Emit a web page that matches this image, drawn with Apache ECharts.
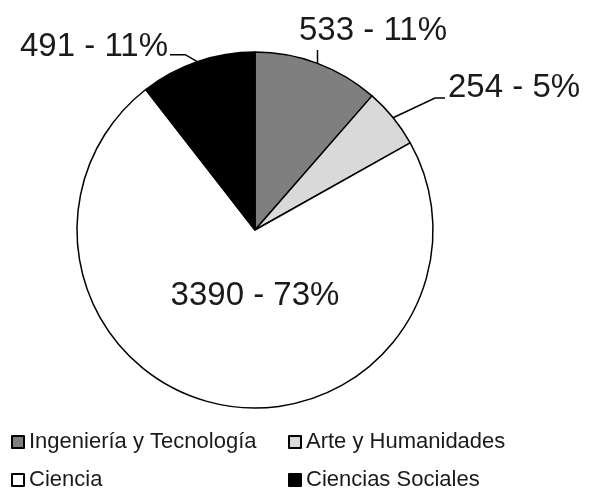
<!DOCTYPE html>
<html>
<head>
    <meta charset="utf-8">
    <title>Pie</title>
    <script src="https://cdn.jsdelivr.net/npm/echarts@6/dist/echarts.min.js"></script>
    <style>
        html, body { margin: 0; padding: 0; background: #fff; }
        #main { width: 590px; height: 494px; }
    </style>
</head>
<body>
<div id="main"></div>
<script>
    // datos
    var categorias = ['Ingeniería y Tecnología', 'Arte y Humanidades', 'Ciencia', 'Ciencias Sociales'];
    var valores = [533, 254, 3390, 491];
    var porcentajes = [11, 5, 73, 11];
    var colores = ['#7f7f7f', '#d9d9d9', '#ffffff', '#000000'];

    // posiciones de etiquetas (centro del texto)
    var etiquetas = [
        { x: 373, y: 31, align: 'center' },
        { x: 448, y: 88, align: 'left' },
        { x: 255, y: 296, align: 'center' },
        { x: 168, y: 47, align: 'right' }
    ];

    var datos = categorias.map(function (c, i) {
        return {
            name: c,
            value: valores[i],
            itemStyle: { color: colores[i] },
            label: { position: i === 2 ? 'inside' : 'outside' },
            labelLine: { show: i !== 2 }
        };
    });

    // lineas guia desde el borde del sector
    function guia(i, p0) {
        var e = etiquetas[i];
        if (i === 0) return [p0, [p0[0], e.y + 19]];
        if (i === 1) return [p0, [e.x - 13, e.y + 10], [e.x - 3, e.y + 10]];
        if (i === 3) return [p0, [p0[0] - 12, p0[1] - 7], [e.x + 2, p0[1] - 7]];
        return null;
    }

    function leyenda(left, items) {
        return {
            orient: 'horizontal',
            left: left,
            top: 426,
            width: 250,
            itemWidth: 12,
            itemHeight: 12,
            itemGap: 16,
            icon: 'rect',
            data: items,
            textStyle: { fontSize: 22, color: '#1a1a1a', fontFamily: 'Liberation Sans', padding: [0, 0, 0, 0] }
        };
    }

    var myChart = echarts.init(document.getElementById('main'));
    myChart.setOption({
        animation: false,
        textStyle: { fontFamily: 'Liberation Sans' },
        legend: [
            leyenda(6, [categorias[0], categorias[2]]),
            leyenda(283, [categorias[1], categorias[3]])
        ],
        series: [{
            type: 'pie',
            center: [255, 230],
            radius: 178,
            startAngle: 90,
            clockwise: true,
            avoidLabelOverlap: false,
            itemStyle: { borderColor: '#000', borderWidth: 1.5 },
            emphasis: { disabled: true },
            label: {
                fontSize: 33,
                color: '#1a1a1a',
                fontFamily: 'Liberation Sans',
                formatter: function (p) {
                    return p.value + ' - ' + porcentajes[p.dataIndex] + '%';
                }
            },
            labelLine: {
                length: 12,
                length2: 12,
                lineStyle: { color: '#000', width: 1.5 }
            },
            labelLayout: function (p) {
                var e = etiquetas[p.dataIndex];
                var out = { x: e.x, y: e.y, align: e.align, verticalAlign: 'middle' };
                if (p.labelLinePoints) {
                    var pts = guia(p.dataIndex, p.labelLinePoints[0]);
                    if (pts) out.labelLinePoints = pts;
                }
                return out;
            },
            data: datos
        }]
    });
</script>
</body>
</html>
